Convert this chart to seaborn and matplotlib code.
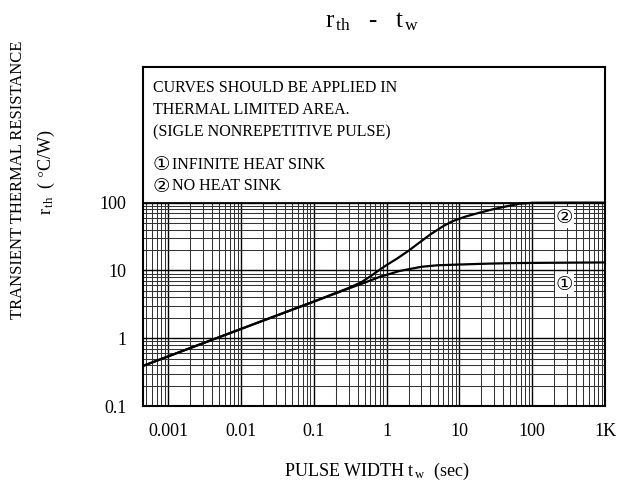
import numpy as np
import pandas as pd
import seaborn as sns
import matplotlib
matplotlib.use("Agg")
import matplotlib.pyplot as plt
from matplotlib.ticker import FixedLocator, LogLocator, NullFormatter

# curve (1): infinite heat sink
tw_inf = [0.00045, 0.001, 0.01, 0.1, 0.3, 0.5, 0.8, 1.5, 3, 5, 10, 20, 50, 100, 300, 1000]
rth_inf = [0.39, 0.54, 1.37, 3.47, 5.4, 6.6, 8.0, 9.8, 11.3, 11.9, 12.2, 12.5, 12.8, 12.9, 13.0, 13.1]

# curve (2): no heat sink
tw_none = [0.00045, 0.001, 0.01, 0.1, 0.3, 0.45, 0.6, 0.8, 1.0, 1.4, 2, 3, 4, 6, 8, 12, 18, 28, 40, 66, 100, 300, 1000]
rth_none = [0.39, 0.54, 1.37, 3.47, 5.5, 6.7, 8.2, 10.2, 12.0, 15.0, 19.5, 27, 34, 45, 53, 62, 70, 79, 86, 96, 99.5, 100, 100]

x_ticks = [0.001, 0.01, 0.1, 1, 10, 100, 1000]
x_tick_labels = ["0.001", "0.01", "0.1", "1", "10", "100", "1K"]
y_ticks = [0.1, 1, 10, 100]
y_tick_labels = ["0.1", "1", "10", "100"]

note_lines = ["CURVES SHOULD BE APPLIED IN",
              "THERMAL LIMITED AREA.",
              "(SIGLE NONREPETITIVE PULSE)"]
legend_lines = [("\u2460", "INFINITE HEAT SINK"), ("\u2461", "NO HEAT SINK")]

sns.set_theme(style="white")
plt.rcParams["font.family"] = ["Liberation Serif", "DejaVu Serif", "DejaVu Sans"]
plt.rcParams["mathtext.fontset"] = "stix"
plt.rcParams["text.color"] = "black"
plt.rcParams["xtick.color"] = "black"
plt.rcParams["ytick.color"] = "black"

df = pd.concat([
    pd.DataFrame({"tw": tw_inf, "rth": rth_inf, "curve": "1"}),
    pd.DataFrame({"tw": tw_none, "rth": rth_none, "curve": "2"}),
])

fig = plt.figure(figsize=(6.24, 4.94), dpi=100)
ax = fig.add_axes([143 / 624, 1 - 406 / 494, 462 / 624, 339 / 494])

sns.lineplot(data=df, x="tw", y="rth", hue="curve", palette=["black", "black"],
             legend=False, linewidth=1.6, ax=ax, zorder=3, sort=False)

ax.set_xscale("log")
ax.set_yscale("log")
ax.set_xlim(0.00045, 1000)
ax.set_ylim(0.1, 1e4)

ax.xaxis.set_major_locator(FixedLocator(x_ticks))
ax.xaxis.set_minor_locator(LogLocator(base=10, subs=np.arange(2, 10)))
ax.xaxis.set_minor_formatter(NullFormatter())
ax.set_xticklabels(x_tick_labels)
ax.yaxis.set_major_locator(FixedLocator(y_ticks))
ax.yaxis.set_minor_locator(LogLocator(base=10, subs=np.arange(2, 10)))
ax.yaxis.set_minor_formatter(NullFormatter())
ax.set_yticklabels(y_tick_labels)
ax.tick_params(which="both", length=0, labelsize=13, labelcolor="black")
ax.tick_params(axis="x", pad=12)
ax.tick_params(axis="y", pad=12)

ax.set_axisbelow(True)
ax.grid(which="major", color="black", linewidth=1.0)
ax.grid(which="minor", color="#333333", linewidth=0.75)
# blank the area above 100 where the note goes
ax.axhspan(100, 1e4, facecolor="white", edgecolor="none", zorder=1)
ax.axhline(100, color="black", linewidth=1.3, zorder=2)

for sp in ax.spines.values():
    sp.set_color("black")
    sp.set_linewidth(1.5)
    sp.set_zorder(4)

ax.set_xlabel("")
ax.set_ylabel("")

# note block
for i, line in enumerate(note_lines):
    fig.text(153 / 624, 1 - (88 + 22 * i) / 494, line, fontsize=11.5, va="center", ha="left")
for i, (num, txt) in enumerate(legend_lines):
    yy = 1 - (165 + 21 * i) / 494
    fig.text(153 / 624, yy, num, fontsize=14, va="center", ha="left",
             family=["DejaVu Sans", "Noto Sans CJK JP"])
    fig.text(172 / 624, yy, txt, fontsize=11.5, va="center", ha="left")

# curve labels
for num, yv in [("\u2461", 60), ("\u2460", 6.3)]:
    ax.text(275, yv, num, fontsize=14, ha="center", va="center", zorder=5,
            family=["DejaVu Sans", "Noto Sans CJK JP"],
            bbox=dict(facecolor="white", edgecolor="none", pad=0.5))

fig.text(372 / 624, 1 - 22 / 494, r"$\mathregular{r_{\,th}}$   -   $\mathregular{t_{\,w}}$",
         fontsize=18, ha="center", va="center")
fig.text(377 / 624, 1 - 471 / 494, r"PULSE WIDTH $\mathregular{t_{\,w}}$  (sec)",
         fontsize=13, ha="center", va="center")
fig.text(18 / 624, 1 - 180 / 494, "TRANSIENT THERMAL RESISTANCE", fontsize=12,
         rotation=90, ha="center", va="center")
fig.text(46 / 624, 1 - 172 / 494, r"$\mathregular{r_{\,th}}$  ( $\degree$C/W)", fontsize=13,
         rotation=90, ha="center", va="center")

fig.savefig("out.png", dpi=100)
